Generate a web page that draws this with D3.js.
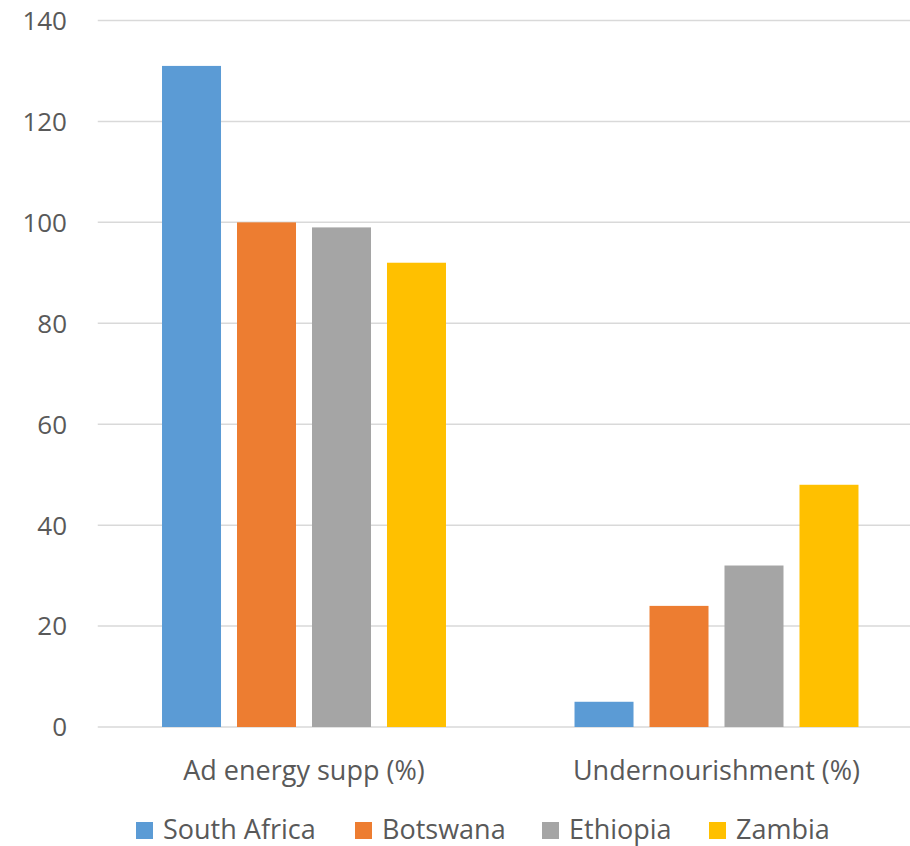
<!DOCTYPE html>
<html>
<head>
<meta charset="utf-8">
<script src="https://cdn.jsdelivr.net/npm/d3@7"></script>
<style>
  body { margin: 0; background: #fff; }
  text { font-family: "Open Sans", sans-serif; fill: #595959; }
</style>
</head>
<body>
<div id="chart"></div>
<script>
// Chart data
const categories = ["Ad energy supp (%)", "Undernourishment (%)"];
const countries = ["South Africa", "Botswana", "Ethiopia", "Zambia"];
const southAfrica = [131, 5];
const botswana = [100, 24];
const ethiopia = [99, 32];
const zambia = [92, 48];
const yTicks = [0, 20, 40, 60, 80, 100, 120, 140];

const seriesValues = [southAfrica, botswana, ethiopia, zambia];
const colors = ["#5b9bd5", "#ed7d31", "#a5a5a5", "#ffc000"];

// Set up dimensions
const width = 910;
const height = 846;
const plotLeft = 97.75;
const plotRight = 922.75;
const plotTop = 20.5;
const plotBottom = 727;

const svg = d3.select("#chart")
  .append("svg")
  .attr("width", width)
  .attr("height", height);

// Scales
const x0 = d3.scaleBand()
  .domain(categories)
  .range([plotLeft, plotRight])
  .paddingInner(0)
  .paddingOuter(0);

const x1 = d3.scaleBand()
  .domain(countries)
  .range([0, x0.bandwidth()])
  .paddingInner(0.2133)
  .paddingOuter(0.857);

const y = d3.scaleLinear()
  .domain([0, 140])
  .range([plotBottom, plotTop]);

const color = d3.scaleOrdinal()
  .domain(countries)
  .range(colors);

// Gridlines
svg.append("g")
  .selectAll("line")
  .data(yTicks)
  .enter().append("line")
  .attr("x1", plotLeft)
  .attr("x2", plotRight)
  .attr("y1", d => y(d))
  .attr("y2", d => y(d))
  .attr("stroke", "#d9d9d9")
  .attr("stroke-width", 1.5);

// Y tick labels
svg.append("g")
  .selectAll("text")
  .data(yTicks)
  .enter().append("text")
  .attr("x", 67)
  .attr("y", d => y(d))
  .attr("dy", "0.36em")
  .attr("text-anchor", "end")
  .style("font-size", "26px")
  .text(d => d);

// Bars
const groups = svg.append("g")
  .selectAll("g")
  .data(categories)
  .enter().append("g")
  .attr("transform", d => `translate(${x0(d)},0)`);

groups.selectAll("rect")
  .data((d, i) => countries.map((c, j) => ({ country: c, value: seriesValues[j][i] })))
  .enter().append("rect")
  .attr("x", d => x1(d.country))
  .attr("width", x1.bandwidth())
  .attr("y", d => y(d.value))
  .attr("height", d => y(0) - y(d.value))
  .attr("fill", d => color(d.country));

// Category labels
svg.append("g")
  .selectAll("text")
  .data(categories)
  .enter().append("text")
  .attr("x", d => x0(d) + x0.bandwidth() / 2)
  .attr("y", 780)
  .attr("text-anchor", "middle")
  .style("font-size", "27px")
  .text(d => d);

// Legend
const legendX = [136, 355, 542, 709];
const legend = svg.append("g")
  .selectAll("g")
  .data(countries)
  .enter().append("g")
  .attr("transform", (d, i) => `translate(${legendX[i]}, 839)`);

legend.append("rect")
  .attr("x", 0)
  .attr("y", -17)
  .attr("width", 17)
  .attr("height", 17)
  .attr("fill", d => color(d));

legend.append("text")
  .attr("x", 27)
  .attr("y", 0)
  .style("font-size", "27px")
  .text(d => d);
</script>
</body>
</html>
